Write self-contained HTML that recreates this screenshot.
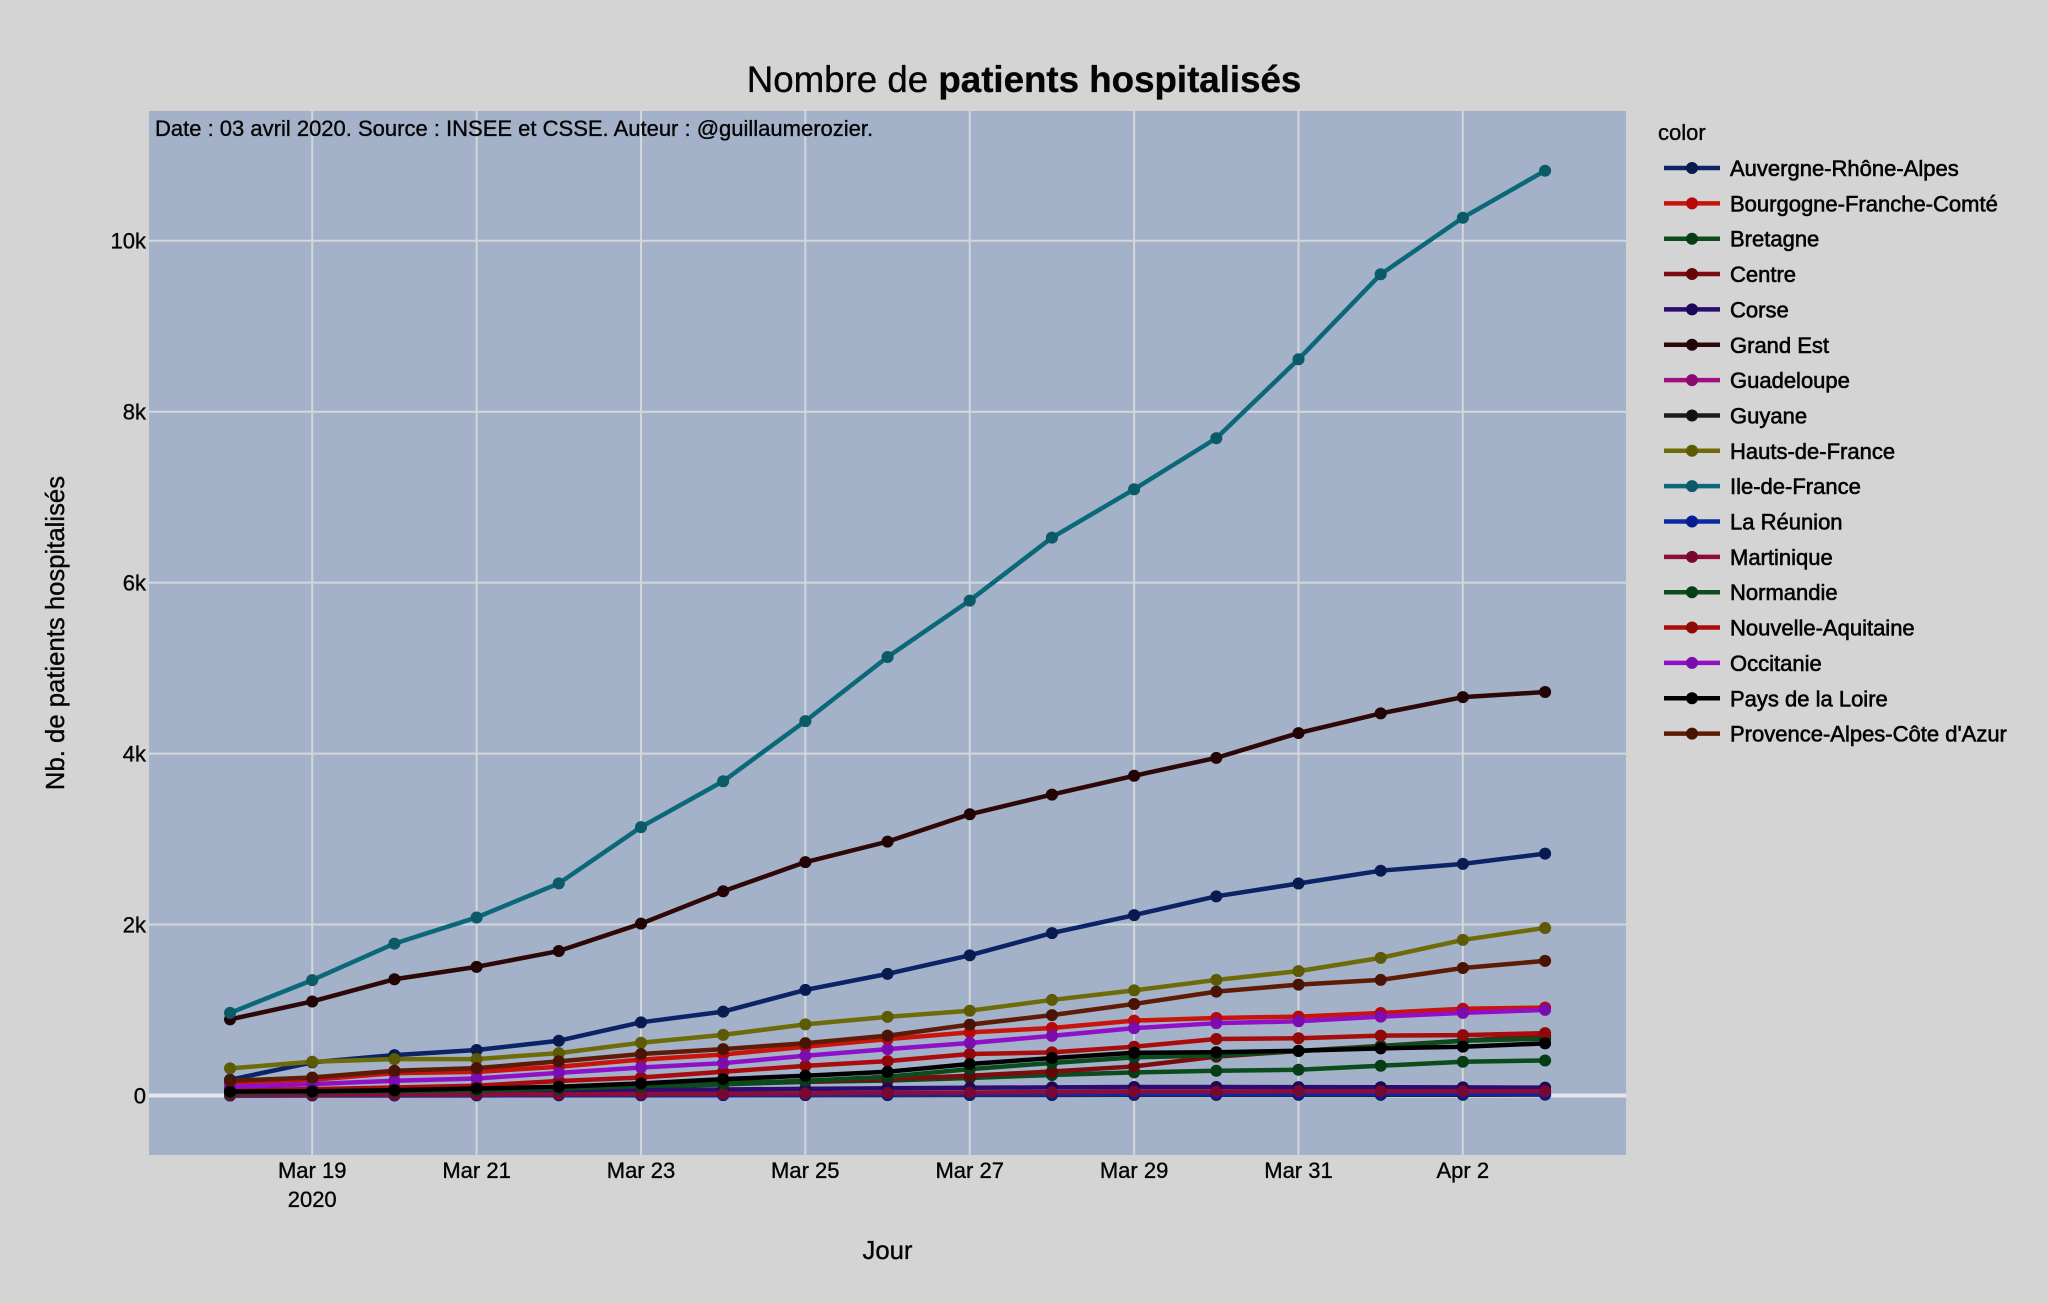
<!DOCTYPE html>
<html>
<head>
<meta charset="utf-8">
<style>
  html,body{margin:0;padding:0;background:#d4d4d4;}
  svg{display:block;font-family:"Liberation Sans",Arial,sans-serif;}
  .t{fill:#050505;stroke:#050505;stroke-width:0.35;}
  .lg{stroke-width:0.6;}
</style>
</head>
<body>
<svg width="2048" height="1303" viewBox="0 0 2048 1303" xmlns="http://www.w3.org/2000/svg">
  <rect x="0" y="0" width="2048" height="1303" fill="#d4d4d4"/>
  <!-- plot area -->
  <rect x="149" y="111" width="1477" height="1044" fill="#a4b2c9"/>
  <!-- grid -->
  <g stroke="#d3d6dc" stroke-width="2">
    <line x1="312.2" y1="111" x2="312.2" y2="1155"/>
    <line x1="476.6" y1="111" x2="476.6" y2="1155"/>
    <line x1="641" y1="111" x2="641" y2="1155"/>
    <line x1="805.3" y1="111" x2="805.3" y2="1155"/>
    <line x1="969.7" y1="111" x2="969.7" y2="1155"/>
    <line x1="1134.1" y1="111" x2="1134.1" y2="1155"/>
    <line x1="1298.5" y1="111" x2="1298.5" y2="1155"/>
    <line x1="1462.8" y1="111" x2="1462.8" y2="1155"/>
    <line x1="149" y1="924.5" x2="1626" y2="924.5"/>
    <line x1="149" y1="753.6" x2="1626" y2="753.6"/>
    <line x1="149" y1="582.6" x2="1626" y2="582.6"/>
    <line x1="149" y1="411.7" x2="1626" y2="411.7"/>
    <line x1="149" y1="240.7" x2="1626" y2="240.7"/>
  </g>
  <line x1="149" y1="1095.5" x2="1626" y2="1095.5" stroke="#e6e8eb" stroke-width="4"/>

  <!-- series -->
  <g transform="translate(230 1095.5) scale(82.19 -0.08548)" fill="none" stroke-linejoin="round">
    <!-- Auvergne-Rhône-Alpes -->
    <polyline vector-effect="non-scaling-stroke" stroke="#0b2466" stroke-width="4.5" points="0,184 1,387 2,473 3,532 4,641 5,856 6,981 7,1235 8,1423 9,1640 10,1900 11,2110 12,2330 13,2480 14,2630 15,2710 16,2830"/>
    <path vector-effect="non-scaling-stroke" stroke="#081a4f" stroke-width="12" stroke-linecap="round" d="M0,184h0.001M1,387h0.001M2,473h0.001M3,532h0.001M4,641h0.001M5,856h0.001M6,981h0.001M7,1235h0.001M8,1423h0.001M9,1640h0.001M10,1900h0.001M11,2110h0.001M12,2330h0.001M13,2480h0.001M14,2630h0.001M15,2710h0.001M16,2830h0.001"/>
    <!-- Bourgogne-Franche-Comté -->
    <polyline vector-effect="non-scaling-stroke" stroke="#c8140c" stroke-width="4.5" points="0,153 1,184 2,262 3,277 4,336 5,420 6,480 7,570 8,660 9,739 10,790 11,876 12,907 13,923 14,965 15,1015 16,1028"/>
    <path vector-effect="non-scaling-stroke" stroke="#b80808" stroke-width="12" stroke-linecap="round" d="M0,153h0.001M1,184h0.001M2,262h0.001M3,277h0.001M4,336h0.001M5,420h0.001M6,480h0.001M7,570h0.001M8,660h0.001M9,739h0.001M10,790h0.001M11,876h0.001M12,907h0.001M13,923h0.001M14,965h0.001M15,1015h0.001M16,1028h0.001"/>
    <!-- Bretagne -->
    <polyline vector-effect="non-scaling-stroke" stroke="#0c4c1c" stroke-width="4.5" points="0,25 1,30 2,40 3,50 4,70 5,100 6,130 7,160 8,175 9,205 10,240 11,270 12,290 13,301 14,348 15,395 16,410"/>
    <path vector-effect="non-scaling-stroke" stroke="#073d14" stroke-width="12" stroke-linecap="round" d="M0,25h0.001M1,30h0.001M2,40h0.001M3,50h0.001M4,70h0.001M5,100h0.001M6,130h0.001M7,160h0.001M8,175h0.001M9,205h0.001M10,240h0.001M11,270h0.001M12,290h0.001M13,301h0.001M14,348h0.001M15,395h0.001M16,410h0.001"/>
    <!-- Centre -->
    <polyline vector-effect="non-scaling-stroke" stroke="#7c0c10" stroke-width="4.5" points="0,55 1,60 2,70 3,80 4,95 5,120 6,150 7,165 8,192 9,231 10,281 11,340 12,455 13,520 14,580 15,640 16,700"/>
    <path vector-effect="non-scaling-stroke" stroke="#650508" stroke-width="12" stroke-linecap="round" d="M0,55h0.001M1,60h0.001M2,70h0.001M3,80h0.001M4,95h0.001M5,120h0.001M6,150h0.001M7,165h0.001M8,192h0.001M9,231h0.001M10,281h0.001M11,340h0.001M12,455h0.001M13,520h0.001M14,580h0.001M15,640h0.001M16,700h0.001"/>
    <!-- Corse -->
    <polyline vector-effect="non-scaling-stroke" stroke="#2c0c70" stroke-width="4.5" points="0,15 1,25 2,35 3,45 4,55 5,62 6,70 7,78 8,85 9,90 10,95 11,100 12,100 13,98 14,96 15,95 16,92"/>
    <path vector-effect="non-scaling-stroke" stroke="#1c0858" stroke-width="12" stroke-linecap="round" d="M0,15h0.001M1,25h0.001M2,35h0.001M3,45h0.001M4,55h0.001M5,62h0.001M6,70h0.001M7,78h0.001M8,85h0.001M9,90h0.001M10,95h0.001M11,100h0.001M12,100h0.001M13,98h0.001M14,96h0.001M15,95h0.001M16,92h0.001"/>
    <!-- Grand Est -->
    <polyline vector-effect="non-scaling-stroke" stroke="#2e0808" stroke-width="4.5" points="0,890 1,1100 2,1360 3,1505 4,1690 5,2010 6,2390 7,2730 8,2970 9,3290 10,3520 11,3740 12,3950 13,4240 14,4470 15,4660 16,4720"/>
    <path vector-effect="non-scaling-stroke" stroke="#220404" stroke-width="12" stroke-linecap="round" d="M0,890h0.001M1,1100h0.001M2,1360h0.001M3,1505h0.001M4,1690h0.001M5,2010h0.001M6,2390h0.001M7,2730h0.001M8,2970h0.001M9,3290h0.001M10,3520h0.001M11,3740h0.001M12,3950h0.001M13,4240h0.001M14,4470h0.001M15,4660h0.001M16,4720h0.001"/>
    <!-- Guadeloupe -->
    <polyline vector-effect="non-scaling-stroke" stroke="#9c1080" stroke-width="4.5" points="0,3 1,5 2,8 3,10 4,12 5,15 6,18 7,20 8,25 9,28 10,30 11,35 12,35 13,40 14,40 15,40 16,40"/>
    <path vector-effect="non-scaling-stroke" stroke="#8a0a70" stroke-width="12" stroke-linecap="round" d="M0,3h0.001M1,5h0.001M2,8h0.001M3,10h0.001M4,12h0.001M5,15h0.001M6,18h0.001M7,20h0.001M8,25h0.001M9,28h0.001M10,30h0.001M11,35h0.001M12,35h0.001M13,40h0.001M14,40h0.001M15,40h0.001M16,40h0.001"/>
    <!-- Guyane -->
    <polyline vector-effect="non-scaling-stroke" stroke="#1c1c1c" stroke-width="4.5" points="0,0 1,1 2,2 3,2 4,3 5,3 6,4 7,5 8,5 9,6 10,6 11,7 12,7 13,8 14,8 15,9 16,10"/>
    <path vector-effect="non-scaling-stroke" stroke="#111111" stroke-width="12" stroke-linecap="round" d="M0,0h0.001M1,1h0.001M2,2h0.001M3,2h0.001M4,3h0.001M5,3h0.001M6,4h0.001M7,5h0.001M8,5h0.001M9,6h0.001M10,6h0.001M11,7h0.001M12,7h0.001M13,8h0.001M14,8h0.001M15,9h0.001M16,10h0.001"/>
    <!-- Hauts-de-France -->
    <polyline vector-effect="non-scaling-stroke" stroke="#6e6c08" stroke-width="4.5" points="0,317 1,395 2,426 3,426 4,496 5,617 6,709 7,832 8,920 9,992 10,1118 11,1230 12,1352 13,1455 14,1610 15,1820 16,1960"/>
    <path vector-effect="non-scaling-stroke" stroke="#5c5a04" stroke-width="12" stroke-linecap="round" d="M0,317h0.001M1,395h0.001M2,426h0.001M3,426h0.001M4,496h0.001M5,617h0.001M6,709h0.001M7,832h0.001M8,920h0.001M9,992h0.001M10,1118h0.001M11,1230h0.001M12,1352h0.001M13,1455h0.001M14,1610h0.001M15,1820h0.001M16,1960h0.001"/>
    <!-- Ile-de-France -->
    <polyline vector-effect="non-scaling-stroke" stroke="#0a6878" stroke-width="4.5" points="0,966 1,1350 2,1777 3,2083 4,2481 5,3140 6,3676 7,4380 8,5130 9,5790 10,6526 11,7092 12,7689 13,8613 14,9607 15,10269 16,10819"/>
    <path vector-effect="non-scaling-stroke" stroke="#0a5a68" stroke-width="12" stroke-linecap="round" d="M0,966h0.001M1,1350h0.001M2,1777h0.001M3,2083h0.001M4,2481h0.001M5,3140h0.001M6,3676h0.001M7,4380h0.001M8,5130h0.001M9,5790h0.001M10,6526h0.001M11,7092h0.001M12,7689h0.001M13,8613h0.001M14,9607h0.001M15,10269h0.001M16,10819h0.001"/>
    <!-- La Réunion -->
    <polyline vector-effect="non-scaling-stroke" stroke="#0c2aa0" stroke-width="4.5" points="0,0 1,1 2,2 3,3 4,4 5,5 6,6 7,8 8,10 9,12 10,12 11,14 12,15 13,15 14,16 15,18 16,18"/>
    <path vector-effect="non-scaling-stroke" stroke="#061c90" stroke-width="12" stroke-linecap="round" d="M0,0h0.001M1,1h0.001M2,2h0.001M3,3h0.001M4,4h0.001M5,5h0.001M6,6h0.001M7,8h0.001M8,10h0.001M9,12h0.001M10,12h0.001M11,14h0.001M12,15h0.001M13,15h0.001M14,16h0.001M15,18h0.001M16,18h0.001"/>
    <!-- Martinique -->
    <polyline vector-effect="non-scaling-stroke" stroke="#8c0c3c" stroke-width="4.5" points="0,5 1,8 2,10 3,12 4,15 5,18 6,20 7,25 8,30 9,35 10,40 11,45 12,45 13,50 14,50 15,50 16,50"/>
    <path vector-effect="non-scaling-stroke" stroke="#780830" stroke-width="12" stroke-linecap="round" d="M0,5h0.001M1,8h0.001M2,10h0.001M3,12h0.001M4,15h0.001M5,18h0.001M6,20h0.001M7,25h0.001M8,30h0.001M9,35h0.001M10,40h0.001M11,45h0.001M12,45h0.001M13,50h0.001M14,50h0.001M15,50h0.001M16,50h0.001"/>
    <!-- Normandie -->
    <polyline vector-effect="non-scaling-stroke" stroke="#0c4c1c" stroke-width="4.5" points="0,30 1,40 2,50 3,60 4,80 5,110 6,140 7,172 8,219 9,309 10,380 11,446 12,470 13,520 14,575 15,640 16,665"/>
    <path vector-effect="non-scaling-stroke" stroke="#073d14" stroke-width="12" stroke-linecap="round" d="M0,30h0.001M1,40h0.001M2,50h0.001M3,60h0.001M4,80h0.001M5,110h0.001M6,140h0.001M7,172h0.001M8,219h0.001M9,309h0.001M10,380h0.001M11,446h0.001M12,470h0.001M13,520h0.001M14,575h0.001M15,640h0.001M16,665h0.001"/>
    <!-- Nouvelle-Aquitaine -->
    <polyline vector-effect="non-scaling-stroke" stroke="#a80c0c" stroke-width="4.5" points="0,63 1,75 2,94 3,114 4,170 5,210 6,278 7,346 8,402 9,485 10,504 11,571 12,661 13,670 14,700 15,707 16,730"/>
    <path vector-effect="non-scaling-stroke" stroke="#900808" stroke-width="12" stroke-linecap="round" d="M0,63h0.001M1,75h0.001M2,94h0.001M3,114h0.001M4,170h0.001M5,210h0.001M6,278h0.001M7,346h0.001M8,402h0.001M9,485h0.001M10,504h0.001M11,571h0.001M12,661h0.001M13,670h0.001M14,700h0.001M15,707h0.001M16,730h0.001"/>
    <!-- Occitanie -->
    <polyline vector-effect="non-scaling-stroke" stroke="#9010c8" stroke-width="4.5" points="0,102 1,133 2,172 3,199 4,265 5,327 6,378 7,465 8,543 9,614 10,697 11,788 12,846 13,868 14,923 15,966 16,1001"/>
    <path vector-effect="non-scaling-stroke" stroke="#7a0cb0" stroke-width="12" stroke-linecap="round" d="M0,102h0.001M1,133h0.001M2,172h0.001M3,199h0.001M4,265h0.001M5,327h0.001M6,378h0.001M7,465h0.001M8,543h0.001M9,614h0.001M10,697h0.001M11,788h0.001M12,846h0.001M13,868h0.001M14,923h0.001M15,966h0.001M16,1001h0.001"/>
    <!-- Pays de la Loire -->
    <polyline vector-effect="non-scaling-stroke" stroke="#000000" stroke-width="4.5" points="0,47 1,50 2,62 3,82 4,102 5,141 6,192 7,231 8,278 9,368 10,438 11,500 12,506 13,524 14,551 15,571 16,610"/>
    <path vector-effect="non-scaling-stroke" stroke="#000000" stroke-width="12" stroke-linecap="round" d="M0,47h0.001M1,50h0.001M2,62h0.001M3,82h0.001M4,102h0.001M5,141h0.001M6,192h0.001M7,231h0.001M8,278h0.001M9,368h0.001M10,438h0.001M11,500h0.001M12,506h0.001M13,524h0.001M14,551h0.001M15,571h0.001M16,610h0.001"/>
    <!-- Provence-Alpes-Côte d'Azur -->
    <polyline vector-effect="non-scaling-stroke" stroke="#5e1c06" stroke-width="4.5" points="0,172 1,211 2,289 3,320 4,399 5,485 6,543 7,612 8,700 9,829 10,940 11,1071 12,1215 13,1297 14,1352 15,1492 16,1575"/>
    <path vector-effect="non-scaling-stroke" stroke="#4a1404" stroke-width="12" stroke-linecap="round" d="M0,172h0.001M1,211h0.001M2,289h0.001M3,320h0.001M4,399h0.001M5,485h0.001M6,543h0.001M7,612h0.001M8,700h0.001M9,829h0.001M10,940h0.001M11,1071h0.001M12,1215h0.001M13,1297h0.001M14,1352h0.001M15,1492h0.001M16,1575h0.001"/>
  </g>

  <!-- title -->
  <text class="t" x="1024" y="92" text-anchor="middle" font-size="36.7">Nombre de <tspan font-weight="bold">patients hospitalisés</tspan></text>
  <!-- annotation -->
  <text class="t" x="155" y="136" font-size="22">Date : 03 avril 2020. Source : INSEE et CSSE. Auteur : @guillaumerozier.</text>

  <!-- y ticks -->
  <g class="t" font-size="22" text-anchor="end">
    <text x="146" y="1103.5">0</text>
    <text x="146" y="932.5">2k</text>
    <text x="146" y="761.6">4k</text>
    <text x="146" y="590.6">6k</text>
    <text x="146" y="419.7">8k</text>
    <text x="146" y="248.7">10k</text>
  </g>
  <!-- x ticks -->
  <g class="t" font-size="22" text-anchor="middle">
    <text x="312.2" y="1178">Mar 19</text>
    <text x="312.2" y="1207">2020</text>
    <text x="476.6" y="1178">Mar 21</text>
    <text x="641" y="1178">Mar 23</text>
    <text x="805.3" y="1178">Mar 25</text>
    <text x="969.7" y="1178">Mar 27</text>
    <text x="1134.1" y="1178">Mar 29</text>
    <text x="1298.5" y="1178">Mar 31</text>
    <text x="1462.8" y="1178">Apr 2</text>
  </g>
  <!-- axis titles -->
  <text class="t" x="887.5" y="1259" text-anchor="middle" font-size="25.7">Jour</text>
  <text class="t" transform="translate(64 633) rotate(-90)" text-anchor="middle" font-size="25.7">Nb. de patients hospitalisés</text>

  <!-- legend -->
  <text class="t" x="1658" y="140" font-size="22">color</text>
  <g stroke-width="4.5">
    <line x1="1664" y1="168" x2="1720" y2="168" stroke="#0b2466"/>
    <line x1="1664" y1="203.35" x2="1720" y2="203.35" stroke="#c8140c"/>
    <line x1="1664" y1="238.7" x2="1720" y2="238.7" stroke="#0c4c1c"/>
    <line x1="1664" y1="274.05" x2="1720" y2="274.05" stroke="#7c0c10"/>
    <line x1="1664" y1="309.4" x2="1720" y2="309.4" stroke="#2c0c70"/>
    <line x1="1664" y1="344.75" x2="1720" y2="344.75" stroke="#2e0808"/>
    <line x1="1664" y1="380.1" x2="1720" y2="380.1" stroke="#9c1080"/>
    <line x1="1664" y1="415.45" x2="1720" y2="415.45" stroke="#1c1c1c"/>
    <line x1="1664" y1="450.8" x2="1720" y2="450.8" stroke="#6e6c08"/>
    <line x1="1664" y1="486.15" x2="1720" y2="486.15" stroke="#0a6878"/>
    <line x1="1664" y1="521.5" x2="1720" y2="521.5" stroke="#0c2aa0"/>
    <line x1="1664" y1="556.85" x2="1720" y2="556.85" stroke="#8c0c3c"/>
    <line x1="1664" y1="592.2" x2="1720" y2="592.2" stroke="#0c4c1c"/>
    <line x1="1664" y1="627.55" x2="1720" y2="627.55" stroke="#a80c0c"/>
    <line x1="1664" y1="662.9" x2="1720" y2="662.9" stroke="#9010c8"/>
    <line x1="1664" y1="698.25" x2="1720" y2="698.25" stroke="#000000"/>
    <line x1="1664" y1="733.6" x2="1720" y2="733.6" stroke="#5e1c06"/>
  </g>
  <g>
    <circle cx="1692" cy="168" r="6" fill="#081a4f"/>
    <circle cx="1692" cy="203.35" r="6" fill="#b80808"/>
    <circle cx="1692" cy="238.7" r="6" fill="#073d14"/>
    <circle cx="1692" cy="274.05" r="6" fill="#650508"/>
    <circle cx="1692" cy="309.4" r="6" fill="#1c0858"/>
    <circle cx="1692" cy="344.75" r="6" fill="#220404"/>
    <circle cx="1692" cy="380.1" r="6" fill="#8a0a70"/>
    <circle cx="1692" cy="415.45" r="6" fill="#111111"/>
    <circle cx="1692" cy="450.8" r="6" fill="#5c5a04"/>
    <circle cx="1692" cy="486.15" r="6" fill="#0a5a68"/>
    <circle cx="1692" cy="521.5" r="6" fill="#061c90"/>
    <circle cx="1692" cy="556.85" r="6" fill="#780830"/>
    <circle cx="1692" cy="592.2" r="6" fill="#073d14"/>
    <circle cx="1692" cy="627.55" r="6" fill="#900808"/>
    <circle cx="1692" cy="662.9" r="6" fill="#7a0cb0"/>
    <circle cx="1692" cy="698.25" r="6" fill="#000000"/>
    <circle cx="1692" cy="733.6" r="6" fill="#4a1404"/>
  </g>
  <g class="t lg" font-size="22">
    <text x="1730" y="176">Auvergne-Rhône-Alpes</text>
    <text x="1730" y="211.35">Bourgogne-Franche-Comté</text>
    <text x="1730" y="246.7">Bretagne</text>
    <text x="1730" y="282.05">Centre</text>
    <text x="1730" y="317.4">Corse</text>
    <text x="1730" y="352.75">Grand Est</text>
    <text x="1730" y="388.1">Guadeloupe</text>
    <text x="1730" y="423.45">Guyane</text>
    <text x="1730" y="458.8">Hauts-de-France</text>
    <text x="1730" y="494.15">Ile-de-France</text>
    <text x="1730" y="529.5">La Réunion</text>
    <text x="1730" y="564.85">Martinique</text>
    <text x="1730" y="600.2">Normandie</text>
    <text x="1730" y="635.55">Nouvelle-Aquitaine</text>
    <text x="1730" y="670.9">Occitanie</text>
    <text x="1730" y="706.25">Pays de la Loire</text>
    <text x="1730" y="741.6">Provence-Alpes-Côte d'Azur</text>
  </g>
</svg>
</body>
</html>
